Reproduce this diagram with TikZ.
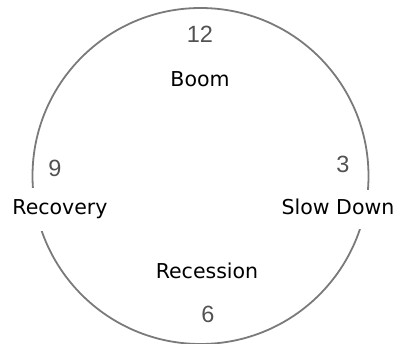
\documentclass[tikz,border=0pt]{standalone}
\usepackage{fontspec}
\setmainfont{DejaVu Sans}
\newfontfamily\numfont{Liberation Sans}
\begin{document}
\begin{tikzpicture}[x=1pt,y=1pt,
  lbl/.style={font=\fontsize{20.5}{23}\selectfont, text=black, fill=white, anchor=base, inner xsep=2pt, inner ysep=0pt, text depth=4pt, text height=15pt},
  num/.style={font=\numfont\fontsize{23.5}{26}\selectfont, text=black!68, anchor=base, inner sep=0pt}]
\useasboundingbox (0,0) rectangle (399,343);
\node[draw=black!52, line width=1.8pt, circle, minimum size=336pt, inner sep=0pt] (dial) at (200.5,167) {};
\node[num] (n12) at (200,300) {12};
\node[num] (n3) at (343,170) {3};
\node[num] (n9) at (55,166) {9};
\node[num] (n6) at (208,21) {6};
\node[lbl, fill=none] (boom) at (200,256) {Boom};
\node[lbl, inner ysep=12pt] (recovery) at (60,128) {Recovery};
\node[lbl, inner ysep=10pt] (slow) at (338,128) {Slow Down};
\node[lbl, fill=none] (recession) at (207,65) {Recession};
\end{tikzpicture}
\end{document}
